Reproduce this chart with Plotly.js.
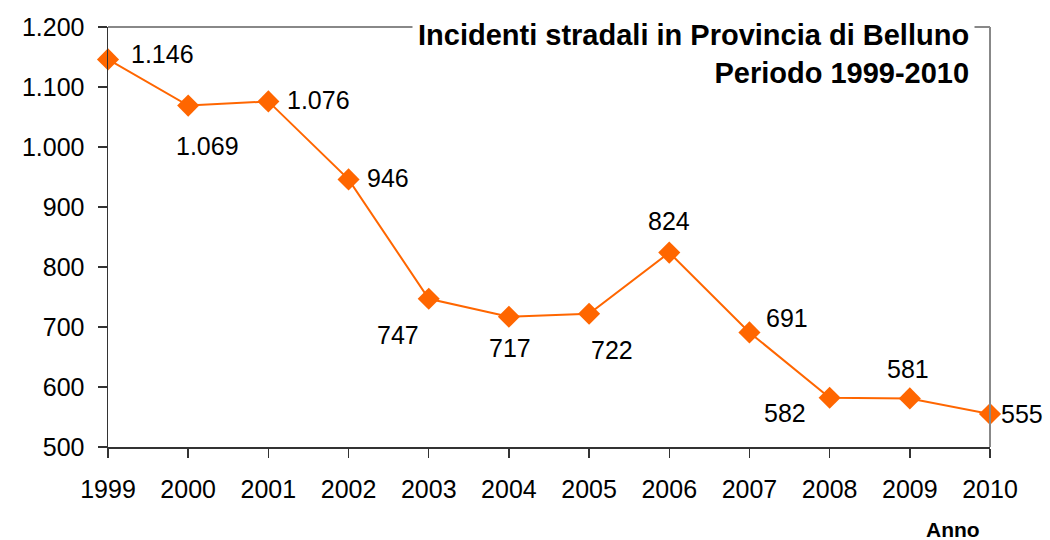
<!DOCTYPE html>
<html><head><meta charset="utf-8">
<script src="https://cdn.plot.ly/plotly-3.0.1.min.js"></script>
<style>body{margin:0;background:#fff}#c{width:1050px;height:540px}</style>
</head><body><div id="c"></div>
<script>
const years = ['1999','2000','2001','2002','2003','2004','2005','2006','2007','2008','2009','2010'];
const incidents = [1146,1069,1076,946,747,717,722,824,691,582,581,555];
const yTicks = [500,600,700,800,900,1000,1100,1200];
// label offsets in pixels (style only)
const labelDx = [54,19,50,39,-31,1,23,0,38,-45,-2,32];
const labelDy = [5,-40,1,1,-36,-31,-36,32,14,-15,29,0];

function fmt(v){ return String(v).replace(/\B(?=(\d{3})+(?!\d))/g,'.'); }

const FONT = 'Liberation Sans, Arial, sans-serif';
const trace = {
  x: years, y: incidents, type:'scatter', mode:'lines+markers',
  line:{color:'#FF6600', width:2},
  marker:{symbol:'diamond', size:17, color:'#FF6600'},
  cliponaxis:false, hoverinfo:'none'
};
const labels = incidents.map((v,i)=>({
  x: i, y: v, xref:'x', yref:'y', text: fmt(v), showarrow:false,
  xanchor:'center', yanchor:'middle', xshift: labelDx[i], yshift: labelDy[i],
  font:{family:FONT, size:25, color:'#000'}
}));
const layout = {
  width:1050, height:540, showlegend:false,
  paper_bgcolor:'#fff', plot_bgcolor:'#fff',
  margin:{l:108, r:60, t:27, b:93},
  font:{family:FONT, size:25, color:'#000'},
  xaxis:{type:'category', range:[0,11], showgrid:false, zeroline:false,
    showline:true, linecolor:'#333', linewidth:1.5,
    ticks:'outside', ticklen:9, tickcolor:'#333', tickwidth:1.5,
    ticklabelstandoff:10,
    tickfont:{size:25}, fixedrange:true, automargin:false},
  yaxis:{range:[500,1200], tickvals:yTicks, ticktext:yTicks.map(fmt),
    showgrid:false, zeroline:false,
    showline:true, linecolor:'#333', linewidth:1.5,
    ticks:'outside', ticklen:9, tickcolor:'#333', tickwidth:1.5,
    ticklabelstandoff:8,
    tickfont:{size:25}, fixedrange:true, automargin:false},
  shapes:[
    {type:'line', xref:'paper', yref:'paper', x0:0, x1:1, y0:1, y1:1, line:{color:'#888', width:2}},
    {type:'line', xref:'paper', yref:'paper', x0:1, x1:1, y0:0, y1:1, line:{color:'#888', width:2}}
  ],
  annotations: labels.concat([
    {text:'<b>Incidenti stradali in Provincia di Belluno</b><br><b>Periodo 1999-2010</b>',
     xref:'paper', yref:'paper', x:0.983, y:1, xanchor:'right', yanchor:'top', yshift:14,
     align:'right', showarrow:false, bgcolor:'#fff', borderpad:5,
     font:{family:FONT, size:29, color:'#000'}},
    {text:'<b>Anno</b>', xref:'paper', yref:'paper', x:0.958, y:0, yshift:-82,
     xanchor:'center', yanchor:'middle', showarrow:false, font:{family:FONT, size:21, color:'#000'}}
  ])
};
Plotly.newPlot('c',[trace],layout,{staticPlot:true});
</script></body></html>
